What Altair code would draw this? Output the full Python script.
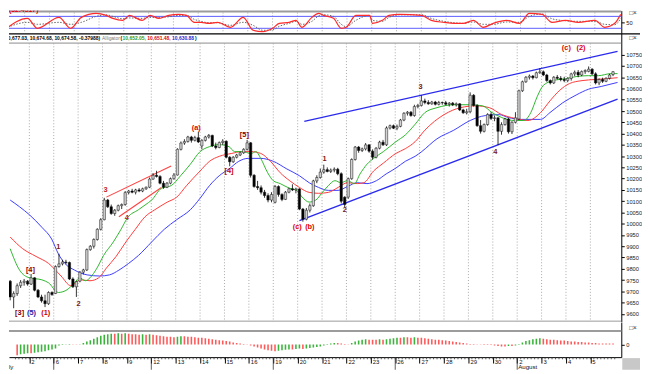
import altair as alt
import pandas as pd

FONT = "Liberation Sans"

# ---------------- data (hourly bars, 1 Jul - 5 Aug 2010, 7 bars per session) ----------------
opens = [9770,9745,9675,9690,9725,9740,9745, 9732,9760,9705,9675,9658,9645,9695,
         9690,9810,9822,9830,9828,9755,9720, 9745,9785,9795,9885,9900,9930,9975,
         10018,10105,10075,10045,10060,10080,10085, 10138,10145,10140,10150,10145,10155,10162,
         10198,10215,10210,10180,10162,10180,10200, 10216,10330,10358,10365,10385,10370,10382,
         10345,10370,10385,10392,10345,10338,10360, 10366,10295,10275,10295,10305,10315,10330,
         10359,10215,10165,10160,10140,10125,10105, 10095,10165,10130,10108,10140,10155,10150,
         10154,10065,10020,10060,10080,10190,10205, 10229,10240,10232,10238,10242,10222,10118,
         10118,10200,10285,10340,10325,10332,10350, 10322,10295,10335,10362,10350,10425,10435,
         10424,10432,10460,10490,10495,10480,10520, 10525,10545,10538,10532,10540,10530,10538,
         10537,10530,10535,10528,10532,10505,10492, 10497,10570,10525,10435,10410,10440,10485,
         10467,10470,10410,10440,10465,10408,10450, 10465,10590,10630,10650,10655,10648,10670,
         10674,10660,10635,10625,10650,10645,10640, 10636,10645,10665,10672,10660,10675,10676,
         10686,10665,10625,10640,10632,10645,10662]
highs = [9775,9750,9700,9735,9750,9755,9750, 9777,9762,9710,9685,9685,9700,9700,
         9815,9867,9840,9840,9832,9762,9745, 9790,9800,9890,9905,9935,9980,10025,
         10115,10110,10085,10065,10085,10090,10145, 10150,10155,10155,10158,10160,10165,10205,
         10225,10235,10215,10190,10185,10205,10225, 10335,10365,10375,10390,10390,10390,10407,
         10375,10390,10398,10395,10360,10365,10375, 10370,10300,10300,10310,10320,10335,10372,
         10362,10220,10190,10170,10150,10135,10140, 10172,10170,10135,10145,10160,10175,10160,
         10158,10070,10070,10090,10195,10215,10245, 10262,10250,10245,10250,10248,10228,10122,
         10205,10290,10345,10345,10338,10358,10352, 10330,10340,10368,10372,10432,10440,10440,
         10440,10465,10495,10500,10500,10528,10532, 10570,10555,10548,10545,10545,10545,10542,
         10545,10540,10540,10538,10535,10510,10510, 10583,10575,10530,10460,10445,10490,10495,
         10480,10472,10450,10470,10470,10455,10495, 10595,10635,10655,10662,10660,10675,10690,
         10680,10665,10640,10655,10660,10655,10652, 10650,10670,10680,10682,10680,10685,10698,
         10690,10672,10645,10648,10650,10665,10677]
lows = [9735,9660,9625,9680,9715,9725,9725, 9728,9700,9670,9650,9630,9640,9680,
        9688,9805,9815,9820,9750,9715,9675, 9740,9775,9790,9880,9890,9925,9970,
        10015,10070,10040,10035,10055,10065,10080, 10130,10135,10130,10140,10140,10150,10158,
        10195,10205,10175,10155,10158,10175,10195, 10214,10325,10350,10360,10360,10365,10358,
        10330,10365,10378,10340,10330,10335,10350, 10290,10255,10270,10290,10300,10310,10325,
        10205,10160,10150,10130,10115,10095,10095, 10090,10120,10100,10105,10135,10145,10135,
        10060,10009,10015,10050,10075,10180,10200, 10222,10228,10225,10228,10215,10090,10072,
        10110,10195,10280,10315,10318,10325,10315, 10285,10290,10330,10345,10345,10418,10420,
        10415,10428,10455,10480,10475,10475,10512, 10520,10530,10528,10528,10525,10525,10528,
        10525,10520,10522,10520,10500,10488,10485, 10490,10520,10430,10400,10405,10435,10460,
        10455,10350,10395,10435,10400,10398,10445, 10460,10585,10625,10640,10640,10645,10665,
        10655,10630,10618,10620,10640,10632,10628, 10628,10635,10655,10650,10655,10665,10672,
        10660,10618,10615,10625,10628,10640,10655]
closes = [9745,9675,9690,9725,9740,9745,9732, 9760,9705,9675,9658,9645,9695,9686,
          9810,9822,9830,9828,9755,9720,9743, 9785,9795,9885,9900,9930,9975,10018,
          10105,10075,10045,10060,10080,10085,10138, 10145,10140,10150,10145,10155,10162,10198,
          10215,10210,10180,10162,10180,10200,10216, 10330,10358,10365,10385,10370,10382,10363,
          10370,10385,10392,10345,10338,10360,10366, 10295,10275,10295,10305,10315,10330,10359,
          10215,10165,10160,10140,10125,10105,10130, 10165,10130,10108,10140,10155,10150,10154,
          10065,10020,10060,10080,10190,10205,10229, 10240,10232,10238,10242,10222,10100,10085,
          10200,10285,10340,10325,10332,10350,10322, 10295,10335,10362,10350,10425,10435,10424,
          10432,10460,10490,10495,10480,10520,10525, 10545,10538,10532,10540,10530,10538,10537,
          10530,10535,10528,10532,10505,10492,10497, 10570,10525,10435,10410,10440,10485,10467,
          10470,10410,10440,10465,10408,10450,10470, 10590,10630,10650,10655,10648,10670,10674,
          10660,10635,10625,10650,10645,10640,10636, 10645,10665,10672,10660,10675,10680,10686,
          10665,10625,10640,10632,10645,10660,10674.58]

# oscillator histogram (bottom pane), one value per bar
hist_vals = [-90,-100,-110,-110, -100,-95,-90,-90,-85,-80,-75,-70,-60,-50,-40,
             -10,-5,3,5,3,-3,3, 15,30,45,60,75,90,
             100,105,110,110,115,110,115, 110,105,105,100,105,100,105,
             100,95,90,85,80,80,75, 80,85,85,80,80,75,70,
             70,65,60,55,50,45,40, 35,30,20,15,10,5,3,
             -10,-20,-30,-40,-50,-60,-65, -70,-65,-60,-55,-50,-50,-45,
             -40,-45,-40,-35,-30,-25,-20, -10,5,10,15,15,10,5,
             3,15,30,40,50,55,50, 50,50,55,50,55,60,65,
             70,70,75,75,70,75,70, 70,65,60,55,50,50,45,
             40,35,30,25,20,15,10, 5,5,3,-3,-5,-5,-5,
             -10,-15,-20,-20,-15,-15,-10, 5,20,35,45,55,60,65,
             60,55,50,50,45,40,40, 35,30,30,25,25,20,20,
             15,15,10,10,10,10,10]

# stochastic (top pane)
stoch_u = [1.5,7.8,10.6,16.7,20.0,23.0,27.2,30.0,31.9,34.7,36.6,40.2,42.4,44.9,47.7,50.4,52.7,54.9,56.8,59.0,
           61.5,65.1,68.7,71.5,74.2,77.0,78.9,81.7,83.6,85.3,88.1,90.0,91.4,94.2,96.4,97.8,100.5,104.4,105.2,108.0,
           109.9,112.7,119.1,121.8,125.4,128.2,130.9,133.7,136.5,139.3,143.1,146.7,149.5,153.1,155.9,159.7,163.3,168.0,170.8,173.6,
           175.3]
stoch_k = [15,70,20,75,20,75,95,85,70,60,85,60,85,70,85,90,85,50,50,45,
           50,25,75,10,3,20,45,50,60,25,75,95,85,70,20,25,85,85,45,60,
           85,90,85,60,50,45,45,60,25,45,60,45,95,90,50,60,50,60,25,45,
           90]
stoch_d = [20,50,40,50,40,50,80,88,80,68,72,70,75,75,78,85,85,65,55,48,
           48,35,50,35,10,12,30,45,55,40,55,82,88,80,40,28,60,85,60,55,
           75,88,88,70,55,48,45,52,40,40,52,50,80,92,68,58,55,55,40,38,
           70]

# Alligator lines (lips green, teeth red, jaw blue)
lips_u = [1.5,4.2,7.0,10.6,12.5,15.3,17.5,20.0,21.4,23.1,24.4,26.4,28.3,31.1,33.3,35.2,38.3,40.2,42.1,44.9,
          47.7,50.4,53.2,56.0,58.7,61.5,64.3,65.9,67.9,70.7,72.0,73.4,75.4,77.0,79.0,81.7,83.7,85.3,87.3,89.2,
          90.9,92.8,94.7,96.4,98.3,100.3,101.9,103.9,105.8,108.6,112.2,114.9,117.7,120.5,124.0,128.8,133.5,137.1,139.8,142.6,
          146.2,148.9,150.9,152.8,154.5,157.3,161.1,163.9,167.5,170.3,173.9,175.8]
lips_p = [9889,9794,9760,9751,9738,9695,9704,9738,9760,9747,9760,9803,9859,9919,9975,10027,10062,10083,10105,10157,
          10169,10213,10264,10320,10342,10351,10342,10320,10320,10312,10320,10290,10226,10191,10178,10157,10148,10118,10096,10105,
          10135,10169,10191,10182,10191,10178,10221,10264,10290,10320,10364,10394,10441,10493,10515,10528,10528,10523,10493,10471,
          10458,10458,10493,10566,10614,10635,10644,10653,10657,10657,10666,10666]
teeth_u = [1.5,5.1,8.9,12.5,16.1,18.9,21.7,24.4,26.9,29.1,31.9,34.7,37.4,40.2,43.0,46.6,49.3,52.1,56.0,58.7,
           61.5,65.1,67.9,70.7,73.4,76.2,79.0,81.7,84.5,87.3,90.0,92.8,95.6,98.3,101.1,103.0,105.8,108.6,112.2,114.9,
           117.7,120.5,126.0,130.7,135.1,139.0,142.6,145.4,150.1,153.7,156.4,159.2,162.0,165.6,169.4,173.0,175.8]
teeth_p = [9941,9889,9855,9824,9768,9725,9751,9747,9760,9803,9855,9919,9975,10031,10062,10096,10118,10169,10234,10277,
           10299,10312,10320,10320,10312,10277,10226,10191,10161,10139,10135,10139,10161,10182,10178,10182,10234,10269,10312,10333,
           10364,10415,10484,10515,10523,10515,10484,10471,10458,10493,10545,10592,10622,10635,10640,10644,10648]
jaw_u = [1.5,4.2,7.0,10.6,13.4,15.3,17.2,20.0,23.6,27.2,30.0,32.7,35.5,38.3,42.1,45.7,49.3,53.2,56.0,58.7,
         61.5,64.3,67.1,69.8,73.4,77.0,80.9,84.5,87.3,90.0,92.8,95.6,98.3,101.1,103.9,106.6,109.4,112.2,114.9,117.7,
         119.6,124.0,128.8,133.5,137.9,141.8,144.5,148.1,153.7,156.4,160.0,163.9,167.5,171.1,175.8]
jaw_p = [10105,10075,10040,9984,9932,9867,9824,9794,9773,9768,9773,9794,9824,9859,9919,9975,10018,10062,10113,10169,
         10213,10243,10277,10290,10290,10277,10243,10213,10182,10161,10148,10148,10165,10182,10178,10191,10221,10247,10277,10299,
         10320,10377,10415,10458,10480,10484,10471,10463,10463,10493,10536,10571,10597,10609,10627]

# trend channels
chan_up_u, chan_up_p = [85.9, 175.8], [10454, 10765]
chan_lo_u, chan_lo_p = [84.5, 175.8], [10014, 10553]
red1_u, red1_p = [29.1, 47.7], [10118, 10256]
red2_u, red2_p = [32.7, 44.9], [10031, 10161]

# wave labels
wave_text = ["[3]","(5)","(1)","[4]","1","2","3","4","(a)","[4]","[5]","(c)","(b)","1","2","3","4","(c)","(2)"]
wave_u = [4.2,7.6,11.7,7.3,15.3,21.1,28.9,35.0,54.9,64.3,68.7,83.9,87.5,91.7,97.5,119.3,140.7,161.1,165.3]
wave_p = [9604,9604,9604,9794,9898,9643,10148,10027,10424,10234,10394,9984,9984,10286,10062,10605,10320,10778,10778]
wave_col = ["#8b0000","#1c1ca8","#cc0000","#8b0000","#7a1a1a","#7a1a1a","#cc2222","#cc2222","#dd0000","#cc0000",
            "#8b0000","#dd0000","#dd0000","#7a1a1a","#7a1a1a","#7a1a1a","#7a1a1a","#dd0000","#dd0000"]

day_labels = ["2","6","7","8","9","12","13","14","15","16","19","20","21","22","23","26","27","28","29","30","2","3","4","5"]
week_start_days = [2, 6, 11, 16, 21]
price_ticks = list(range(9600, 10751, 50))

assert len(opens) == len(highs) == len(lows) == len(closes) == len(hist_vals) == 175

# ---------------- frames ----------------
BPD = 7
bars = pd.DataFrame({"o": opens, "h": highs, "l": lows, "c": closes, "v": hist_vals})
bars["u"] = bars.index + 0.5
bars["dir"] = ["up" if c >= o else "down" for o, c in zip(opens, closes)]
bars["hdir"] = ["rise" if i > 0 and hist_vals[i] > hist_vals[i - 1] else "fall" for i in range(len(hist_vals))]

# ---------------- geometry ----------------
U0, U1 = 2.572, 175.46
W = 621
A_H, B_H, C_H = 23, 292.5, 35.5
RIGHT = 640

hist_df = bars[bars["u"] > U0 + 0.3]
days = pd.DataFrame({"u": [BPD * d for d in range(1, len(day_labels) + 1)]})
minor = pd.DataFrame({"u": [k for k in range(3, 176)]})
weeks = pd.DataFrame({"u": [BPD * d for d in week_start_days]})
stoch_df = pd.DataFrame({"u": stoch_u, "k": stoch_k, "d": stoch_d})
lips = pd.DataFrame({"u": lips_u, "p": lips_p})
teeth = pd.DataFrame({"u": teeth_u, "p": teeth_p})
jaw = pd.DataFrame({"u": jaw_u, "p": jaw_p})
waves = pd.DataFrame({"u": wave_u, "p": wave_p, "t": wave_text, "col": wave_col})
one = pd.DataFrame({"k": [0]})

xscale = alt.Scale(domain=[U0, U1], nice=False, zero=False)
X = alt.X("u:Q", scale=xscale, axis=None)


def raxis(values):
    return alt.Axis(orient="right", values=values, format="d", title=None, labelFontSize=5.8, labelFont=FONT,
                    labelColor="#222", tickSize=3, tickColor="#000", domainColor="#000",
                    labelPadding=1.5, grid=False, labelOverlap=False, labelFlush=False)


def txt(s, x, y, color, size, weight="normal", align="left", baseline="middle", clip=False):
    return alt.Chart(one).mark_text(text=s, align=align, baseline=baseline, fontSize=size, font=FONT,
                                    fontWeight=weight, color=color, clip=clip).encode(
        x=alt.value(x), y=alt.value(y))


def hline(y, x0, x1, color, width):
    return alt.Chart(one).mark_rule(color=color, strokeWidth=width).encode(
        x=alt.value(x0), x2=alt.value(x1), y=alt.value(y))


# ---------------- top pane: stochastic ----------------
yA = alt.Scale(domain=[-4.8, 109.3], nice=False, zero=False)
axA = raxis([50])
A = alt.layer(
    alt.Chart(days).mark_rule(color="#a8a8a8", strokeDash=[1, 2]).encode(x=X, y=alt.value(2), y2=alt.value(A_H)),
    hline(1, 0, W, "#9c9c9c", 2),
    alt.Chart(pd.DataFrame({"lv": [20, 80]})).mark_rule(color="#5a5aff", strokeWidth=1).encode(
        y=alt.Y("lv:Q", scale=yA, axis=axA), x=alt.value(0), x2=alt.value(W)),
    alt.Chart(stoch_df).mark_line(color="#666666", strokeWidth=1, strokeDash=[1.5, 1.5], clip=True,
                                  interpolate="monotone").encode(x=X, y=alt.Y("d:Q", scale=yA, axis=axA)),
    alt.Chart(stoch_df).mark_line(color="#ff2a2a", strokeWidth=1.2, clip=True,
                                  interpolate="monotone").encode(x=X, y=alt.Y("k:Q", scale=yA, axis=axA)),
    txt("(32.4517)", 0, 1.6, "#e00000", 7, "bold", baseline="alphabetic", clip=True),
    txt("□×", 629, 0, "#333", 6.5, baseline="top"),
).properties(width=W, height=A_H)

# ---------------- main pane: candles + alligator ----------------
yB = alt.Scale(domain=[9565.5, 10845.3], nice=False, zero=False)
axB = raxis(price_ticks)
YB = alt.Y("p:Q", scale=yB, axis=axB)


def pline(df, color, width=1.0, interp="monotone"):
    return alt.Chart(df).mark_line(color=color, strokeWidth=width, clip=True, interpolate=interp).encode(x=X, y=YB)


INFO = 5.0
IY = 4.6
B = alt.layer(
    hline(0.66, 0, RIGHT, "#000", 1.2),
    hline(10.0, 0, W, "#8a8a8a", 1),
    hline(B_H - 0.5, 0, W, "#9a9a9a", 1),
    alt.Chart(days).mark_rule(color="#a8a8a8", strokeDash=[1, 2]).encode(x=X, y=alt.value(10.3), y2=alt.value(B_H)),
    pline(pd.DataFrame({"u": chan_up_u, "p": chan_up_p}), "#2a2aee", 1.4, "linear"),
    pline(pd.DataFrame({"u": chan_lo_u, "p": chan_lo_p}), "#2a2aee", 1.4, "linear"),
    pline(pd.DataFrame({"u": red1_u, "p": red1_p}), "#ff4040", 1.1, "linear"),
    pline(pd.DataFrame({"u": red2_u, "p": red2_p}), "#ff4040", 1.1, "linear"),
    pline(jaw, "#3b3bff"),
    pline(teeth, "#ff3a3a"),
    pline(lips, "#2cb82c"),
    alt.Chart(bars).mark_rule(color="#000", strokeWidth=0.8, clip=True).encode(
        x=X, y=alt.Y("l:Q", scale=yB, axis=axB), y2="h:Q"),
    alt.Chart(bars).mark_bar(size=2.4, clip=True, stroke="#111", strokeWidth=0.5).encode(
        x=X, y=alt.Y("o:Q", scale=yB, axis=axB), y2="c:Q",
        color=alt.Color("dir:N", scale=alt.Scale(domain=["up", "down"], range=["#d2d2d2", "#000000"]), legend=None)),
    alt.Chart(waves).mark_text(fontSize=7.5, font=FONT, fontWeight="bold", clip=True).encode(
        x=X, y=YB, text="t:N", color=alt.Color("col:N", scale=None)),
    txt("10,677.03, 10,674.68, 10,674.58, -0.37988)", 92.4, IY, "#000", INFO, "bold", align="right", clip=True),
    txt("Alligator", 94.4, IY, "#7a7a7a", INFO),
    txt("(", 113.2, IY, "#000", INFO, "bold"),
    txt("10,652.05,", 115.2, IY, "#1f9a1f", INFO, "bold"),
    txt("10,651.48,", 140.3, IY, "#e00000", INFO, "bold"),
    txt("10,630.88", 165.4, IY, "#1c1cd0", INFO, "bold"),
    txt(")", 188.6, IY, "#000", INFO, "bold"),
    txt("□×", 629, IY, "#333", 6.5),
).properties(width=W, height=B_H)

# ---------------- bottom pane: histogram + time axis ----------------
yC = alt.Scale(domain=[-129.8, 230.2], nice=False, zero=False)
axC = raxis([0])
label_expr = "[" + ",".join("'%s'" % s for s in day_labels) + "][round(datum.value/%d)-1]" % BPD
xaxC = alt.Axis(orient="bottom", values=[BPD * d for d in range(1, len(day_labels) + 1)], labelExpr=label_expr,
                labelAlign="left", labelOffset=1.5, labelFontSize=6, labelFont=FONT, labelColor="#111",
                labelBaseline="top", tickSize=6, tickColor="#000", domainColor="#000", labelPadding=-5,
                title=None, grid=False, labelOverlap=False, labelFlush=False)
XC = alt.X("u:Q", scale=xscale, axis=xaxC)

C = alt.layer(
    hline(8.9, 0, W, "#9c9c9c", 2),
    alt.Chart(hist_df).mark_bar(size=1.6, clip=True).encode(
        x=XC, y=alt.Y("v:Q", scale=yC, axis=axC), y2=alt.datum(0),
        color=alt.Color("hdir:N", scale=alt.Scale(domain=["rise", "fall"], range=["#3cb43c", "#ff5a5a"]),
                        legend=None)),
    alt.Chart(minor).mark_rule(color="#333", strokeWidth=0.8).encode(x=XC, y=alt.value(C_H), y2=alt.value(C_H + 2.2)),
    alt.Chart(weeks).mark_rule(color="#333", strokeWidth=0.8).encode(x=XC, y=alt.value(C_H), y2=alt.value(C_H + 12.8)),
    alt.Chart(pd.DataFrame({"u": [BPD * 21], "t": ["August"]})).mark_text(
        align="left", baseline="alphabetic", dx=1, fontSize=6.2, font=FONT, color="#111").encode(
        x=XC, y=alt.value(C_H + 12.2), text="t:N"),
    txt("ly", 0, C_H + 12.2, "#111", 6.2, baseline="alphabetic"),
    alt.Chart(one).mark_rect(color="#c8c8c8").encode(
        x=alt.value(622), x2=alt.value(RIGHT), y=alt.value(C_H + 1), y2=alt.value(C_H + 12.8)),
    txt("□×", 629, 5.9, "#333", 6.5),
).properties(width=W, height=C_H)

chart = alt.vconcat(A, B, C, spacing=0, bounds="flush").resolve_scale(
    color="independent"
).properties(
    padding={"left": 0, "top": 0, "right": 0, "bottom": 0}
).configure_view(strokeWidth=0)

chart.save("out.html", embed_options={"renderer": "svg", "actions": False})
